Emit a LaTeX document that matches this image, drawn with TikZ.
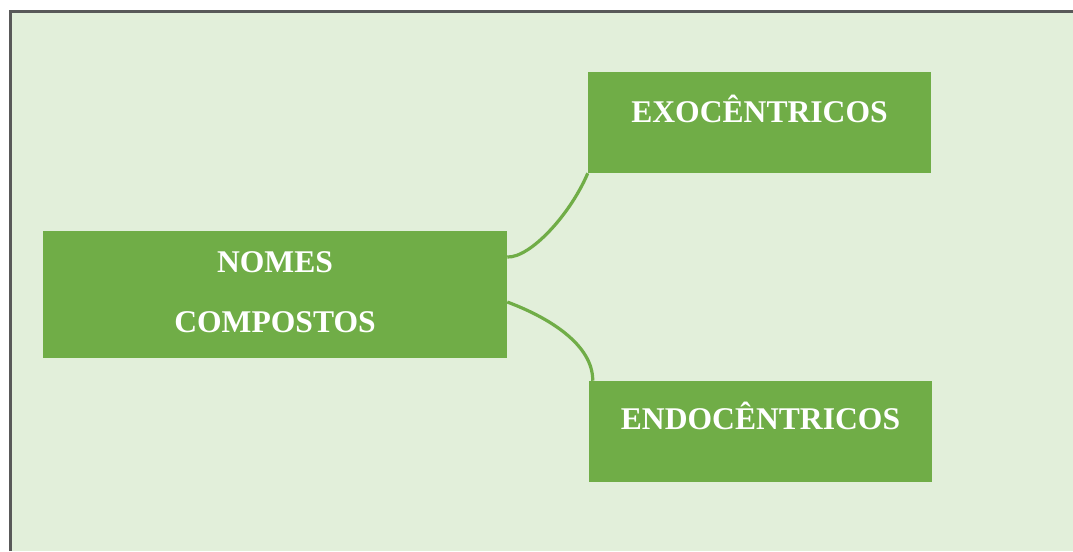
\documentclass[tikz,border=0pt]{standalone}
\usepackage{fontspec}
\setmainfont{Liberation Serif}
\definecolor{panel}{HTML}{E2EFDA}
\definecolor{leaf}{HTML}{70AD47}
\definecolor{frame}{HTML}{595959}
\begin{document}
\begin{tikzpicture}[x=0.75pt,y=-0.75pt,
  box/.style={fill=leaf, draw=none, inner sep=0pt, text=white, align=center,
    font=\fontsize{23.7pt}{45pt}\selectfont\bfseries},
  link/.style={draw=leaf, line width=2.4pt}]
  \useasboundingbox (0,0) rectangle (1073,551);
  % panel background with its top and left frame
  \fill[panel] (10,11) rectangle (1073,551);
  \draw[frame, line width=1.6pt] (10.5,551) -- (10.5,11.5) -- (1073,11.5);

  \node[box, text depth=3pt, minimum width=464*0.75pt, minimum height=127*0.75pt] (nomes) at (275,294.5)
    {NOMES\\COMPOSTOS};
  \node[box, minimum width=343*0.75pt, minimum height=101*0.75pt] (exo) at (759.5,122.5)
    {\smash{EXOCÊNTRICOS}};
  \node[box, minimum width=343*0.75pt, minimum height=101*0.75pt] (endo) at (760.5,431.5)
    {\smash{\raisebox{1.5pt}{ENDOCÊNTRICOS}}};

  \coordinate (a1) at ([yshift=37.5*0.75pt]nomes.east);
  \coordinate (a2) at ([yshift=-7.5*0.75pt]nomes.east);
  \draw[link] (a1) .. controls (530,258) and (570,215) .. (exo.south west);
  \draw[link] (a2) .. controls (550,318) and (593,345) .. ([xshift=4*0.75pt]endo.north west);
\end{tikzpicture}
\end{document}
